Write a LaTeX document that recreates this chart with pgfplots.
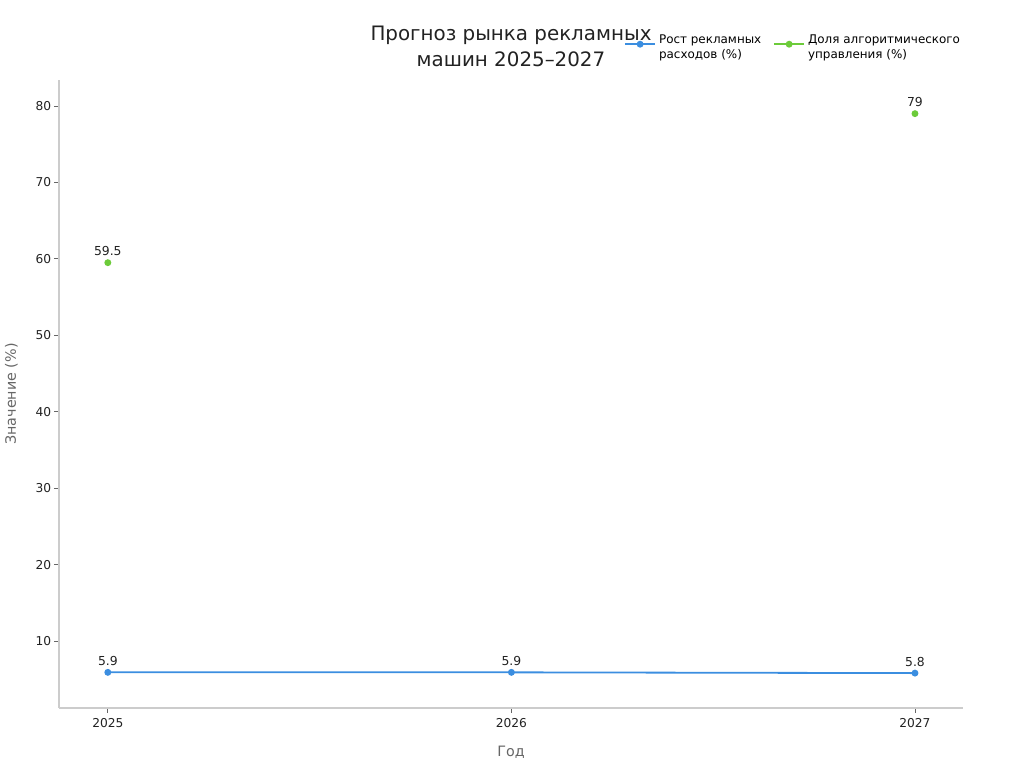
\documentclass[border=0pt]{standalone}
\usepackage{pgfplots}
\pgfplotsset{compat=1.18}
\usepackage{fontspec}
\setmainfont{DejaVu Sans}
\definecolor{serA}{HTML}{3B8EE0}
\definecolor{serB}{HTML}{6CCB3A}
\definecolor{axgray}{HTML}{CCCCCC}
\definecolor{txt}{HTML}{222222}
\definecolor{lbl}{HTML}{666666}
\begin{document}
\begin{tikzpicture}[x=0.72pt,y=0.72pt]
\begin{axis}[
  at={(0,0)}, anchor=south west,
  scale only axis,
  width=650.88pt, height=452.16pt,
  xmin=2024.879, xmax=2027.119,
  ymin=1.234, ymax=83.4,
  axis x line*=bottom, axis y line*=left,
  axis line style={axgray, line width=0.8pt},
  xtick={2025,2026,2027},
  xticklabel style={/pgf/number format/1000 sep={}, yshift=-1pt},
  yticklabel style={xshift=1.2pt},
  ytick={10,20,...,80},
  tick style={color=lbl, line width=0.6pt},
  tick align=outside,
  major tick length=3.3pt,
  ticklabel style={font=\fontsize{8.8}{10}\selectfont, text=txt},
  /pgf/number format/assume math mode=true,
  xlabel={Год},
  ylabel={Значение (\%)},
  label style={font=\fontsize{10.3}{12}\selectfont, text=lbl},
  xlabel style={at={(rel axis cs:0.5,0)}, yshift=-24pt},
  ylabel style={yshift=6pt},
  title={Прогноз рынка рекламных\\машин 2025–2027},
  title style={font=\fontsize{14.3}{19}\selectfont, text=txt, align=center,
    at={(rel axis cs:0.5,1.04)}, anchor=center},
  unbounded coords=jump,
  nodes near coords,
  nodes near coords style={font=\fontsize{8.9}{10}\selectfont, text=txt, yshift=1pt},
  point meta=explicit symbolic,
  legend style={draw=none, fill=none, at={(rel axis cs:0.62,1.081)}, anchor=north west,
    font=\fontsize{8.6}{11}\selectfont, legend columns=2,
    /tikz/every even column/.append style={column sep=0pt}},
  legend cell align=left,
  legend image code/.code={
    \draw[mark repeat=2, mark phase=2, line width=1.3pt]
      plot coordinates {(0pt,0pt) (11pt,0pt) (22pt,0pt)};
  },
  clip=false,
]
\addplot[serA, line width=1.3pt, mark=*, mark size=1.8pt] coordinates {
  (2025,5.9) [5.9]
  (2026,5.9) [5.9]
  (2027,5.8) [5.8]
};
\addlegendentry{\parbox[c]{80pt}{\raggedright Рост рекламных\\расходов (\%)}}
\addplot[serB, line width=1.3pt, mark=*, mark size=1.8pt] coordinates {
  (2025,59.5) [59.5]
  (2026,nan) []
  (2027,79) [79]
};
\addlegendentry{\parbox[c]{115pt}{\raggedright Доля алгоритмического\\управления (\%)}}
\end{axis}
\useasboundingbox (-59,-60) rectangle (965,708);
\end{tikzpicture}
\end{document}
